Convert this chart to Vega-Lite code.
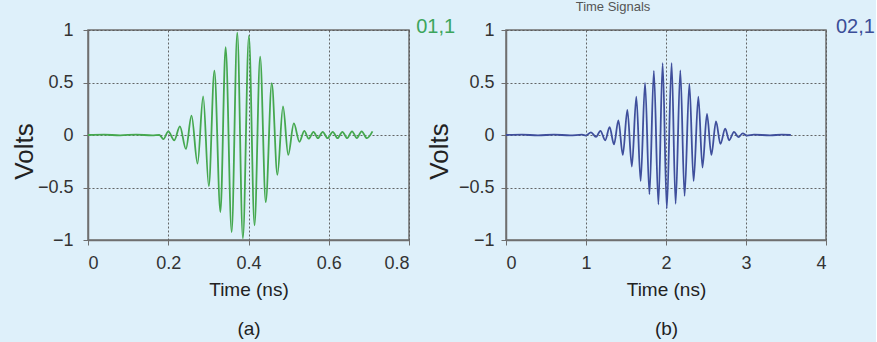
{
  "$schema": "https://vega.github.io/schema/vega-lite/v6.json",
  "background": "#def0fa",
  "padding": {"left": 10, "top": 0, "right": 0, "bottom": 4},
  "datasets": {
    "a": [
      {"t": 0, "v": 0}, {"t": 0.04, "v": 0.003}, {"t": 0.08, "v": -0.003}, {"t": 0.12, "v": 0.004},
      {"t": 0.16, "v": -0.004}, {"t": 0.178, "v": 0.0}, {"t": 0.188, "v": -0.04}, {"t": 0.2, "v": 0.035},
      {"t": 0.215, "v": -0.05}, {"t": 0.229, "v": 0.083}, {"t": 0.244, "v": -0.133}, {"t": 0.258, "v": 0.184},
      {"t": 0.273, "v": -0.272}, {"t": 0.287, "v": 0.368}, {"t": 0.301, "v": -0.487}, {"t": 0.315, "v": 0.612},
      {"t": 0.33, "v": -0.734}, {"t": 0.343, "v": 0.836}, {"t": 0.358, "v": -0.924}, {"t": 0.372, "v": 0.975},
      {"t": 0.386, "v": -0.985}, {"t": 0.401, "v": 0.944}, {"t": 0.415, "v": -0.86}, {"t": 0.429, "v": 0.747},
      {"t": 0.443, "v": -0.639}, {"t": 0.458, "v": 0.494}, {"t": 0.472, "v": -0.38}, {"t": 0.486, "v": 0.272},
      {"t": 0.499, "v": -0.19}, {"t": 0.513, "v": 0.11}, {"t": 0.527, "v": -0.065}, {"t": 0.539, "v": 0.04},
      {"t": 0.55, "v": -0.035}, {"t": 0.562, "v": 0.03}, {"t": 0.573, "v": -0.03}, {"t": 0.585, "v": 0.03},
      {"t": 0.597, "v": -0.03}, {"t": 0.61, "v": 0.03}, {"t": 0.622, "v": -0.03}, {"t": 0.634, "v": 0.03},
      {"t": 0.646, "v": -0.03}, {"t": 0.658, "v": 0.035}, {"t": 0.67, "v": -0.03}, {"t": 0.682, "v": 0.035},
      {"t": 0.695, "v": -0.03}, {"t": 0.709, "v": 0.035}
    ],
    "b": [
      {"t": 0, "v": 0}, {"t": 0.2, "v": 0.004}, {"t": 0.4, "v": -0.004}, {"t": 0.6, "v": 0.004},
      {"t": 0.8, "v": -0.004}, {"t": 0.95, "v": 0.003}, {"t": 1.0, "v": -0.005}, {"t": 1.0625, "v": 0.025},
      {"t": 1.125, "v": -0.018}, {"t": 1.18, "v": 0.04}, {"t": 1.24, "v": -0.05}, {"t": 1.295, "v": 0.075},
      {"t": 1.35, "v": -0.09}, {"t": 1.405, "v": 0.14}, {"t": 1.46, "v": -0.19}, {"t": 1.517, "v": 0.24},
      {"t": 1.573, "v": -0.3}, {"t": 1.629, "v": 0.365}, {"t": 1.683, "v": -0.44}, {"t": 1.738, "v": 0.495},
      {"t": 1.793, "v": -0.565}, {"t": 1.848, "v": 0.61}, {"t": 1.905, "v": -0.66}, {"t": 1.958, "v": 0.685},
      {"t": 2.01, "v": -0.7}, {"t": 2.07, "v": 0.685}, {"t": 2.12, "v": -0.655}, {"t": 2.179, "v": 0.615},
      {"t": 2.232, "v": -0.58}, {"t": 2.292, "v": 0.49}, {"t": 2.345, "v": -0.44}, {"t": 2.404, "v": 0.365},
      {"t": 2.456, "v": -0.31}, {"t": 2.512, "v": 0.2}, {"t": 2.567, "v": -0.19}, {"t": 2.625, "v": 0.13},
      {"t": 2.68, "v": -0.085}, {"t": 2.74, "v": 0.06}, {"t": 2.79, "v": -0.05}, {"t": 2.85, "v": 0.03},
      {"t": 2.905, "v": -0.02}, {"t": 2.96, "v": 0.015}, {"t": 3.01, "v": -0.005}, {"t": 3.1, "v": 0.004},
      {"t": 3.3, "v": -0.004}, {"t": 3.45, "v": 0.004}, {"t": 3.56, "v": 0.0}
    ],
    "la": [{"t": 0.818, "v": 1, "label": "01,1"}],
    "lb": [{"t": 4.125, "v": 1, "label": "02,1"}]
  },
  "hconcat": [
    {
      "width": 321,
      "height": 210,
      "layer": [
        {
          "data": {"name": "a"},
          "mark": {"type": "line", "interpolate": "monotone", "color": "#45a84f", "strokeWidth": 1.8},
          "encoding": {
            "x": {"field": "t", "type": "quantitative", "scale": {"domain": [0, 0.8], "nice": false},
                  "axis": {"values": [0, 0.2, 0.4, 0.6, 0.8], "format": "~g", "title": ["Time (ns)", "(a)"], "grid": true}},
            "y": {"field": "v", "type": "quantitative", "scale": {"domain": [-1, 1], "nice": false},
                  "axis": {"values": [-1, -0.5, 0, 0.5, 1], "format": "~g", "title": "Volts", "titleY": 121, "titlePadding": 0, "labelPadding": 10, "grid": true}}
          }
        },
        {
          "data": {"name": "la"},
          "mark": {"type": "text", "align": "left", "baseline": "middle", "dy": -3, "fontSize": 20, "color": "#3ca55c", "font": "Liberation Sans"},
          "encoding": {
            "x": {"field": "t", "type": "quantitative"},
            "y": {"field": "v", "type": "quantitative"},
            "text": {"field": "label"}
          }
        }
      ]
    },
    {
      "width": 320,
      "height": 210,
      "title": {"text": "Time Signals", "fontSize": 13, "color": "#555555", "fontWeight": "normal", "font": "Liberation Sans", "offset": 3, "dx": -53, "anchor": "middle"},
      "layer": [
        {
          "data": {"name": "b"},
          "mark": {"type": "line", "interpolate": "monotone", "color": "#3f4f9c", "strokeWidth": 1.8},
          "encoding": {
            "x": {"field": "t", "type": "quantitative", "scale": {"domain": [0, 4], "nice": false},
                  "axis": {"values": [0, 1, 2, 3, 4], "format": "~g", "title": ["Time (ns)", "(b)"], "grid": true}},
            "y": {"field": "v", "type": "quantitative", "scale": {"domain": [-1, 1], "nice": false},
                  "axis": {"values": [-1, -0.5, 0, 0.5, 1], "format": "~g", "title": "Volts", "titleY": 121, "titlePadding": 6, "labelPadding": 7, "grid": true}}
          }
        },
        {
          "data": {"name": "lb"},
          "mark": {"type": "text", "align": "left", "baseline": "middle", "dy": -3, "fontSize": 20, "color": "#3b4e98", "font": "Liberation Sans"},
          "encoding": {
            "x": {"field": "t", "type": "quantitative"},
            "y": {"field": "v", "type": "quantitative"},
            "text": {"field": "label"}
          }
        }
      ]
    }
  ],
  "spacing": 97,
  "bounds": "flush",
  "config": {
    "view": {"stroke": "#6f6f6f", "strokeWidth": 1.5, "fill": null},
    "axis": {
      "labelFont": "Liberation Sans", "labelFontSize": 18, "labelColor": "#333333",
      "titleFont": "Liberation Sans", "titleFontWeight": "normal", "titleColor": "#222222",
      "domainColor": "#6f6f6f", "domainWidth": 1.5, "tickColor": "#6f6f6f", "tickSize": 5,
      "gridColor": "#555555", "gridDash": [2, 2], "gridWidth": 1, "gridOpacity": 0.9
    },
    "axisX": {"titleFontSize": 19, "titleLineHeight": 39, "labelPadding": 9, "titlePadding": 8},
    "axisY": {"titleFontSize": 26}
  }
}
